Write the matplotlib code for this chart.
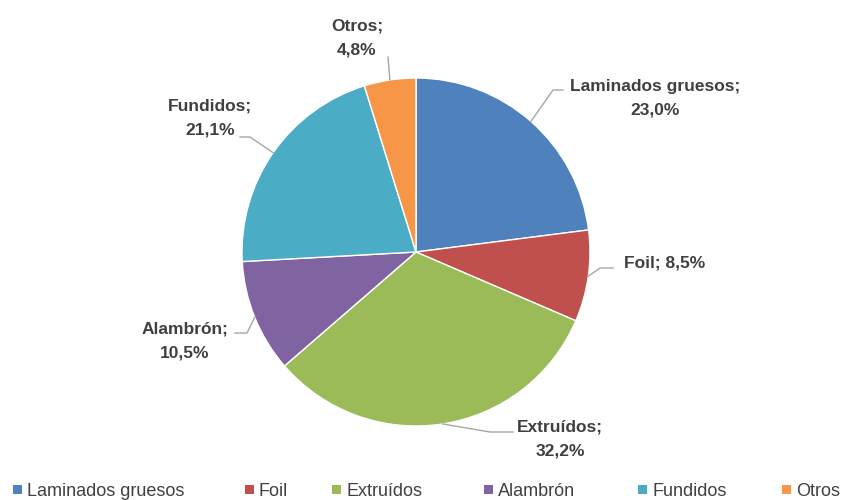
import numpy as np
import matplotlib
matplotlib.use('Agg')
import matplotlib.pyplot as plt
from matplotlib.patches import Rectangle

plt.rcParams['font.family'] = ['Liberation Sans', 'DejaVu Sans']

# data
categories = ['Laminados gruesos', 'Foil', 'Extruídos', 'Alambrón', 'Fundidos', 'Otros']
values = [23.0, 8.5, 32.2, 10.5, 21.1, 4.8]
colors = ['#4F81BD', '#C0504D', '#9BBB59', '#8064A2', '#4BACC6', '#F79646']

# label layout (pixel coords, y from top): text centre, leader elbow, leader end
label_pos = [(655, 98), (665, 263), (560, 439), (185, 341), (210, 118), (357, 38)]
elbow = [(553, 90), (600, 268), (490, 432), (247, 333), (250, 137), (388, 57)]
line_end = [(563, 90), (613, 268), (513, 432), (235, 333), (240, 137), (388, 57)]
two_lines = [True, False, True, True, True, True]
# legend marker left edges (pixels)
legend_x = [13, 245, 332, 484, 638, 782]

W, H = 844, 500
cx, cy, R = 416, 252, 174
txt_col = '#404040'
line_col = '#A6A6A6'

fig = plt.figure(figsize=(W / 100, H / 100), dpi=100)
ax = fig.add_axes([0, 0, 1, 1])

wedges, _ = ax.pie(values, colors=colors, startangle=90, counterclock=False,
                   center=(cx, H - cy), radius=R,
                   wedgeprops=dict(edgecolor='white', linewidth=1))
ax.set_xlim(0, W)
ax.set_ylim(0, H)
ax.set_aspect('equal')
ax.axis('off')

total = sum(values)
cum = 0
for i, v in enumerate(values):
    mid = 90 - (cum + v / 2) / total * 360
    cum += v
    ex = cx + R * np.cos(np.radians(mid))
    ey = H - (cy - R * np.sin(np.radians(mid)))
    bx, by = elbow[i]
    lx, ly = line_end[i]
    ax.plot([ex, bx, lx], [ey, H - by, H - ly], color=line_col, lw=1)
    pct = f'{v:.1f}%'.replace('.', ',')
    if two_lines[i]:
        s = f'{categories[i]};\n{pct}'
    else:
        s = f'{categories[i]}; {pct}'
    tx, ty = label_pos[i]
    ax.text(tx, H - ty, s, ha='center', va='center', fontsize=12.5,
            fontweight='bold', color=txt_col, linespacing=1.75)

# legend along the bottom
ly = H - 489
for x0, c, name in zip(legend_x, colors, categories):
    ax.add_patch(Rectangle((x0, ly - 4.5), 9, 9, facecolor=c, edgecolor='none'))
    ax.text(x0 + 14, ly, name, ha='left', va='center_baseline', fontsize=13,
            color=txt_col)

fig.savefig('out.png', dpi=100)
